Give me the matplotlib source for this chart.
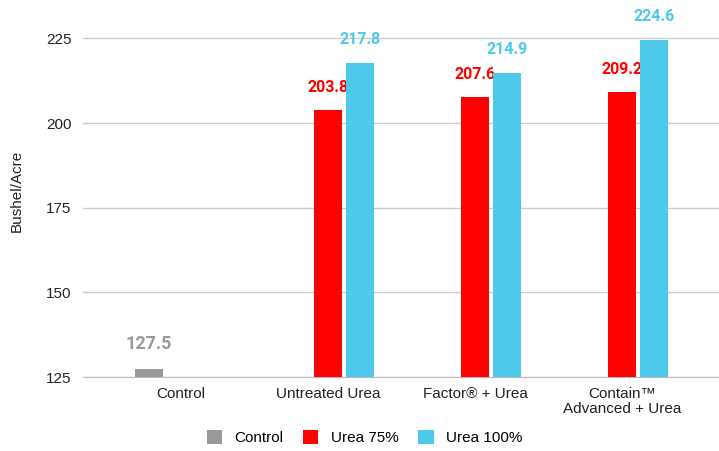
import numpy as np
import matplotlib
matplotlib.use("Agg")
import matplotlib.pyplot as plt

plt.rcParams['font.family'] = ['Liberation Sans', 'DejaVu Sans']

categories = ["Control", "Untreated Urea", "Factor® + Urea", "Contain™\nAdvanced + Urea"]
series = ["Control", "Urea 75%", "Urea 100%"]
control = [127.5, None, None, None]
urea75 = [None, 203.8, 207.6, 209.2]
urea100 = [None, 217.8, 214.9, 224.6]
colors = ["#999999", "#ff0000", "#4dc9ec"]

fig = plt.figure(figsize=(7.19, 4.51), dpi=100)
ax = fig.add_axes([0.115, 0.164, 0.885, 0.826])

x = np.arange(len(categories))
step = 0.218
width = 0.19
base = 125

for i, (name, vals, col) in enumerate(zip(series, [control, urea75, urea100], colors)):
    first = True
    for xi, v in zip(x, vals):
        if v is None:
            continue
        xp = xi + (i - 1) * step
        ax.bar(xp, v - base, width, bottom=base, color=col, zorder=3,
               label=name if first else None)
        first = False
        fs = 13 if i == 0 else 11.5
        ax.annotate(f"{v:.1f}", (xp, v), xytext=(0, 11), textcoords="offset points",
                    ha="center", va="bottom", color=col, fontsize=fs,
                    fontweight="bold", family="Roboto")

ax.set_ylim(125, 235)
ax.set_xlim(-0.67, 3.66)
ax.set_yticks([125, 150, 175, 200, 225])
ax.set_xticks(x)
ax.set_xticklabels(categories, fontsize=11, color="#222222", linespacing=1.15)
ax.tick_params(axis="y", labelsize=11, colors="#222222", length=0, pad=8)
ax.tick_params(axis="x", length=0, pad=7)
ax.grid(axis="y", color="#cccccc", linewidth=1, zorder=0)
for s in ["top", "right", "left"]:
    ax.spines[s].set_visible(False)
ax.spines["bottom"].set_color("#bbbbbb")
ax.set_ylabel("Bushel/Acre", fontsize=11, color="#222222", labelpad=16)

fig.legend(loc="lower center", bbox_to_anchor=(0.507, -0.018), ncol=3, frameon=False,
           fontsize=11, handlelength=1.0, handleheight=1.0, columnspacing=1.3, handletextpad=0.8)

fig.savefig("out.png", dpi=100)
